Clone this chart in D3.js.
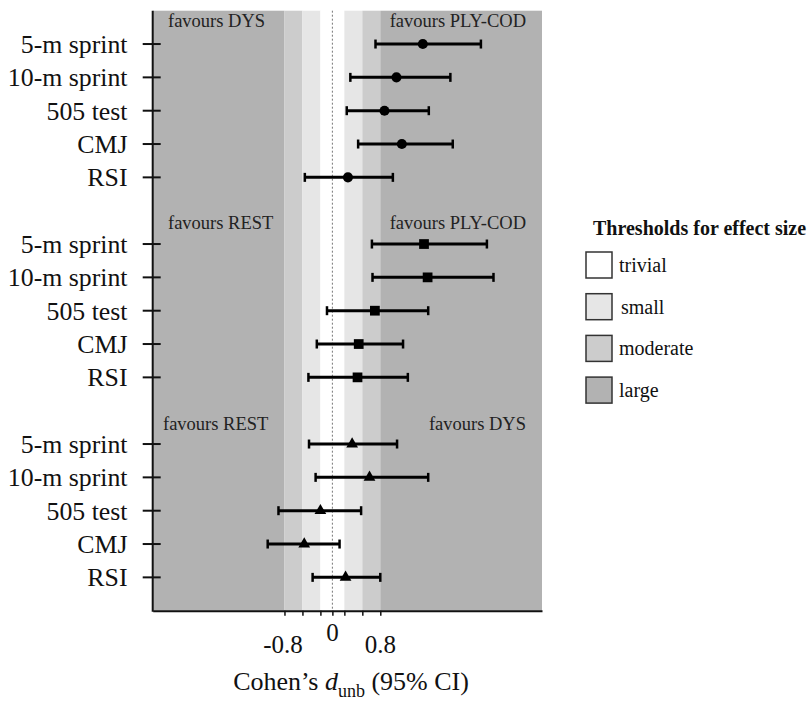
<!DOCTYPE html>
<html><head><meta charset="utf-8">
<script src="https://cdn.jsdelivr.net/npm/d3@7"></script>
<style>body{margin:0;background:#fff}svg{display:block;font-family:"Liberation Serif","Times New Roman",serif}</style>
</head><body><svg id="c" width="811" height="707"></svg>
<script>
const outcomes = ["5-m sprint","10-m sprint","505 test","CMJ","RSI"];
const groupHeaders = [["favours DYS","favours PLY-COD"],["favours REST","favours PLY-COD"],["favours REST","favours DYS"]];
// group 1: PLY-COD vs DYS (circles)
const g1Mean = [1.51,1.07,0.87,1.16,0.26];
const g1Low  = [0.72,0.30,0.24,0.43,-0.46];
const g1High = [2.48,1.97,1.61,2.01,1.01];
// group 2: PLY-COD vs REST (squares)
const g2Mean = [1.53,1.59,0.71,0.44,0.42];
const g2Low  = [0.66,0.67,-0.09,-0.26,-0.40];
const g2High = [2.58,2.69,1.60,1.18,1.26];
// group 3: DYS vs REST (triangles)
const g3Mean = [0.33,0.62,-0.20,-0.47,0.22];
const g3Low  = [-0.39,-0.28,-0.90,-1.08,-0.33];
const g3High = [1.08,1.60,0.48,0.12,0.80];
const tickValues = [-0.8,-0.5,-0.2,0,0.2,0.5,0.8];
const tickLabels = ["-0.8","","","0","","","0.8"];
const thresholdNames = ["trivial","small","moderate","large"];
const thresholdEdges = [0.2,0.5,0.8];
const xDomain = [-3,3.5];

const colors = {trivial:"#ffffff", small:"#e6e6e6", moderate:"#cccccc", large:"#b2b2b2"};
const svg = d3.select("#c");
const x = d3.scaleLinear().domain(xDomain).range([152.7,542]);
const y = d3.scaleLinear().domain([-1,17]).range([10.7,610.7]);

// bands
const bands = [
  {a:xDomain[0], b:-thresholdEdges[2], k:"large"},
  {a:-thresholdEdges[2], b:-thresholdEdges[1], k:"moderate"},
  {a:-thresholdEdges[1], b:-thresholdEdges[0], k:"small"},
  {a:-thresholdEdges[0], b:thresholdEdges[0], k:"trivial"},
  {a:thresholdEdges[0], b:thresholdEdges[1], k:"small"},
  {a:thresholdEdges[1], b:thresholdEdges[2], k:"moderate"},
  {a:thresholdEdges[2], b:xDomain[1], k:"large"}
];
svg.append("g").selectAll("rect").data(bands).join("rect")
  .attr("x",d=>x(d.a)).attr("width",d=>x(d.b)-x(d.a))
  .attr("y",y(-1)).attr("height",y(17)-y(-1))
  .attr("fill",d=>colors[d.k]);

// zero line
svg.append("line").attr("x1",x(0)).attr("x2",x(0)).attr("y1",y(-1)).attr("y2",y(17))
  .attr("stroke","#777").attr("stroke-width",1).attr("stroke-dasharray","2,2");

const groups = [
  {mean:g1Mean,low:g1Low,high:g1High,sym:d3.symbolCircle,size:80,start:0},
  {mean:g2Mean,low:g2Low,high:g2High,sym:d3.symbolSquare,size:95,start:6},
  {mean:g3Mean,low:g3Low,high:g3High,sym:d3.symbolTriangle,size:60,start:12}
];

groups.forEach((g,gi)=>{
  const rows = outcomes.map((o,i)=>({o, m:g.mean[i], l:g.low[i], h:g.high[i], s:g.start+i}));
  const gg = svg.append("g");
  gg.selectAll("line.ci").data(rows).join("line").attr("class","ci")
    .attr("x1",d=>x(d.l)).attr("x2",d=>x(d.h)).attr("y1",d=>y(d.s)).attr("y2",d=>y(d.s))
    .attr("stroke","#000").attr("stroke-width",3);
  ["l","h"].forEach(k=>{
    gg.selectAll("line.cap"+k).data(rows).join("line").attr("class","cap"+k)
      .attr("x1",d=>x(d[k])).attr("x2",d=>x(d[k])).attr("y1",d=>y(d.s)-4.5).attr("y2",d=>y(d.s)+4.5)
      .attr("stroke","#000").attr("stroke-width",2.5);
  });
  gg.selectAll("path").data(rows).join("path")
    .attr("d",d3.symbol().type(g.sym).size(g.size))
    .attr("transform",d=>`translate(${x(d.m)},${y(d.s)})`).attr("fill","#000");
  // row labels and ticks
  gg.selectAll("text.lab").data(rows).join("text").attr("class","lab")
    .attr("x",127.5).attr("y",d=>y(d.s)).attr("dy","0.35em").attr("text-anchor","end")
    .attr("font-size",25.8).attr("fill","#111").text(d=>d.o);
  gg.selectAll("line.tk").data(rows).join("line").attr("class","tk")
    .attr("x1",x(xDomain[0])-10).attr("x2",x(xDomain[0])+8).attr("y1",d=>y(d.s)).attr("y2",d=>y(d.s))
    .attr("stroke","#111").attr("stroke-width",2);
  // headers
  const hy = [27,229,430][gi];
  svg.append("text").attr("x",[168,168,163][gi]).attr("y",hy).attr("font-size",18.5).attr("fill","#222").text(groupHeaders[gi][0]);
  svg.append("text").attr("x",526).attr("y",hy).attr("text-anchor","end").attr("font-size",18.5).attr("fill","#222").text(groupHeaders[gi][1]);
});

// axes
svg.append("line").attr("x1",x(xDomain[0])).attr("x2",x(xDomain[0])).attr("y1",y(-1)).attr("y2",y(17)+1)
  .attr("stroke","#111").attr("stroke-width",2);
const xa = svg.append("g").attr("transform",`translate(0,${y(17)})`)
  .call(d3.axisBottom(x).tickValues(tickValues).tickFormat("").tickSizeInner(5).tickSizeOuter(0));
xa.select(".domain").attr("stroke","#111").attr("stroke-width",2);
xa.selectAll(".tick line").attr("stroke","#111").attr("stroke-width",1.5);
const lab = tickValues.map((v,i)=>({v,t:tickLabels[i]})).filter(d=>d.t);
svg.selectAll("text.tl").data(lab).join("text").attr("class","tl")
  .attr("x",d=>x(d.v)+(d.v<0?-1.5:0)).attr("y",d=>d.v===0?640.5:653).attr("text-anchor","middle")
  .attr("font-size",25).attr("fill","#111").text(d=>d.t);

// axis title
const t = svg.append("text").attr("x",351).attr("y",690).attr("text-anchor","middle").attr("font-size",26).attr("fill","#111");
t.append("tspan").text("Cohen’s  ");
t.append("tspan").attr("font-style","italic").text("d");
t.append("tspan").attr("font-size",18).attr("dy",7).text("unb");
t.append("tspan").attr("dy",-7).text(" (95% CI)");

// legend
svg.append("text").attr("x",593).attr("y",235).attr("font-size",20).attr("font-weight","bold").attr("fill","#111").text("Thresholds for effect size");
const lg = svg.append("g").selectAll("g").data(thresholdNames).join("g")
  .attr("transform",(d,i)=>`translate(586,${252+i*41.7})`);
lg.append("rect").attr("width",26).attr("height",26).attr("fill",d=>colors[d]).attr("stroke","#333").attr("stroke-width",1.5);
lg.append("text").attr("x",d=>d==="small"?35:33).attr("y",20).attr("font-size",20).attr("fill","#111").text(d=>d);
</script></body></html>
